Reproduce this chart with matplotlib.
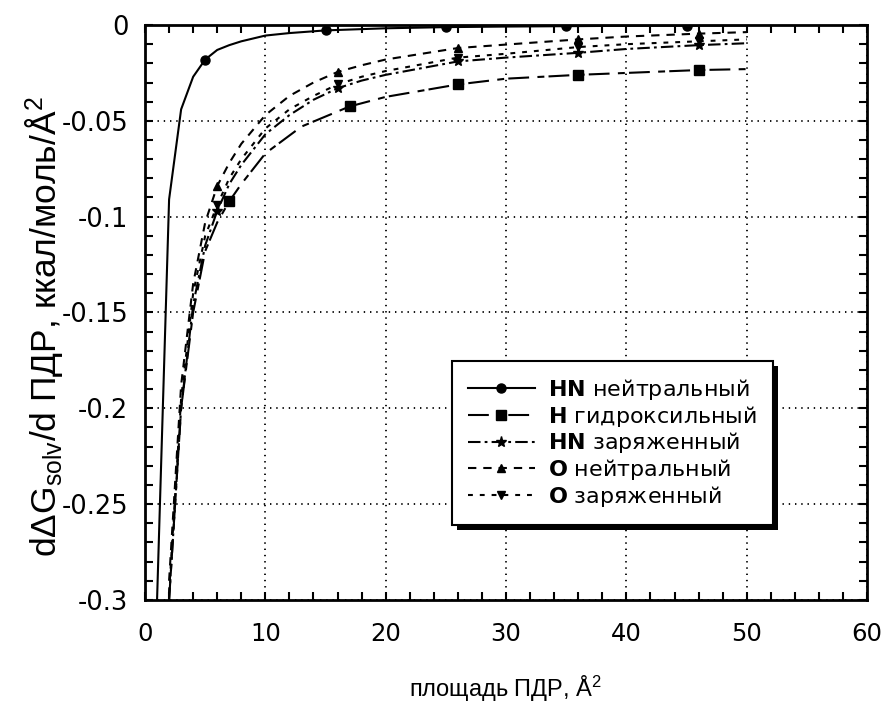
import matplotlib
matplotlib.use("Agg")
import matplotlib.pyplot as plt
from matplotlib.patches import Rectangle
from matplotlib.ticker import MultipleLocator

plt.rcParams["font.family"] = ["Liberation Sans", "DejaVu Sans"]
plt.rcParams["mathtext.fontset"] = "custom"
plt.rcParams["mathtext.rm"] = "Liberation Sans"
plt.rcParams["mathtext.it"] = "Liberation Sans:italic"
plt.rcParams["mathtext.bf"] = "DejaVu Sans:bold"
plt.rcParams["lines.scale_dashes"] = False

# ---- data ----
HN_NEU_X = [1, 2, 3, 4, 5, 6, 7, 8, 10, 12, 15, 20, 25, 30, 35, 40, 45, 50]
HN_NEU_Y = [-0.300, -0.091, -0.044, -0.027, -0.018, -0.013, -0.0105, -0.0085,
            -0.0055, -0.0042, -0.0028, -0.0017, -0.0011, -0.0008, -0.0006,
            -0.0004, -0.0003, -0.0002]
HN_NEU_MARK = [4, 10, 12, 14, 16]

H_OH_X = [2, 3, 4, 5, 6, 7, 8, 10, 13, 17, 20, 26, 30, 36, 40, 46, 50]
H_OH_Y = [-0.300, -0.200, -0.150, -0.118, -0.103, -0.092, -0.083, -0.067,
          -0.053, -0.0425, -0.0375, -0.031, -0.028, -0.026, -0.025, -0.0235,
          -0.023]
H_OH_MARK = [5, 9, 11, 13, 15]

DASH_X = [2, 3, 4, 5, 6, 7, 8, 10, 12, 14, 16, 18, 20, 26, 30, 36, 40, 46, 50]
DASH_MARK = [4, 10, 13, 15, 17]
HN_CH_Y = [-0.300, -0.200, -0.146, -0.115, -0.097, -0.083, -0.073, -0.057,
           -0.047, -0.039, -0.033, -0.029, -0.026, -0.019, -0.017, -0.0145,
           -0.0125, -0.0105, -0.0095]
O_NEU_Y = [-0.290, -0.188, -0.135, -0.103, -0.084, -0.072, -0.062, -0.047,
           -0.037, -0.030, -0.0245, -0.021, -0.018, -0.012, -0.0102, -0.0075,
           -0.006, -0.0045, -0.0037]
O_CH_Y = [-0.296, -0.195, -0.140, -0.110, -0.094, -0.080, -0.070, -0.054,
          -0.044, -0.037, -0.031, -0.027, -0.024, -0.017, -0.015, -0.0115,
          -0.010, -0.0085, -0.0075]

LABELS = [r"$\mathbf{HN}$ нейтральный",
          r"$\mathbf{H}$ гидроксильный",
          r"$\mathbf{HN}$ заряженный",
          r"$\mathbf{O}$ нейтральный",
          r"$\mathbf{O}$ заряженный"]

X_TICKS = [0, 10, 20, 30, 40, 50, 60]
Y_TICKS = [0, -0.05, -0.1, -0.15, -0.2, -0.25, -0.3]
Y_TICKLABELS = ["0", "-0.05", "-0.1", "-0.15", "-0.2", "-0.25", "-0.3"]

fig = plt.figure(figsize=(8.87, 7.15), dpi=100)
ax = fig.add_axes([0.1635, 0.161, 0.814, 0.804])

lw = 1.5
ax.plot(HN_NEU_X, HN_NEU_Y, color="black", lw=lw, ls="-",
        marker="o", ms=6.5, markevery=HN_NEU_MARK, label=LABELS[0])
ax.plot(H_OH_X, H_OH_Y, color="black", lw=lw, ls=(0, (15, 6, 5, 3)),
        marker="s", ms=6.5, markevery=H_OH_MARK, label=LABELS[1])
ax.plot(DASH_X, HN_CH_Y, color="black", lw=lw, ls=(0, (9, 3, 2, 3)),
        marker="*", ms=8, markevery=DASH_MARK, label=LABELS[2])
ax.plot(DASH_X, O_NEU_Y, color="black", lw=lw, ls=(0, (6, 5)),
        marker="^", ms=6, markevery=DASH_MARK, label=LABELS[3])
ax.plot(DASH_X, O_CH_Y, color="black", lw=lw, ls=(0, (3.5, 5)),
        marker="v", ms=6, markevery=DASH_MARK, label=LABELS[4])

ax.set_xlim(0, 60)
ax.set_ylim(-0.3, 0)
ax.xaxis.set_minor_locator(MultipleLocator(2))
ax.yaxis.set_minor_locator(MultipleLocator(0.01))
ax.set_xticks(X_TICKS)
ax.set_xticklabels([str(v) for v in X_TICKS], family="DejaVu Sans",
                   fontsize=17.5)
ax.set_yticks(Y_TICKS)
ax.set_yticklabels(Y_TICKLABELS, family="DejaVu Sans", fontsize=18.5)

ax.grid(True, which="major", color="black", ls=(0, (1, 3.5)), lw=1.3)
ax.tick_params(which="both", direction="in", top=True, right=True,
               width=1.5, length=6)
ax.tick_params(axis="x", pad=16)
ax.tick_params(axis="y", pad=12)
for s in ax.spines.values():
    s.set_linewidth(2)

ax.set_xlabel("площадь ПДР, Å$^2$", fontsize=17)
ax.xaxis.set_label_coords(0.5, -0.128)
ax.set_ylabel(r"d$\Delta$G$_{\rm solv}$/d ПДР, ккал/моль/Å$^2$",
              fontsize=25.5)
ax.yaxis.set_label_coords(-0.11, 0.475)

leg = ax.legend(loc="upper left", bbox_to_anchor=(0.425, 0.416),
                borderaxespad=0, handlelength=3.0,
                prop={"family": "DejaVu Sans", "size": 16},
                numpoints=1, fancybox=False, framealpha=1,
                edgecolor="black", labelspacing=0.08, borderpad=0.72,
                handletextpad=0.6)
leg.get_frame().set_linewidth(1.5)

# black drop shadow behind the legend
fig.canvas.draw()
bb = leg.get_window_extent()
inv = fig.transFigure.inverted()
(x0, y0) = inv.transform((bb.x0 + 5, bb.y0 - 5))
(x1, y1) = inv.transform((bb.x1 + 5, bb.y1 - 5))
fig.patches.append(Rectangle((x0, y0), x1 - x0, y1 - y0,
                             transform=fig.transFigure, facecolor="black",
                             edgecolor="none", zorder=5))
ax.set_zorder(6)
ax.patch.set_alpha(0)

fig.savefig("out.png", dpi=100, facecolor="white")
